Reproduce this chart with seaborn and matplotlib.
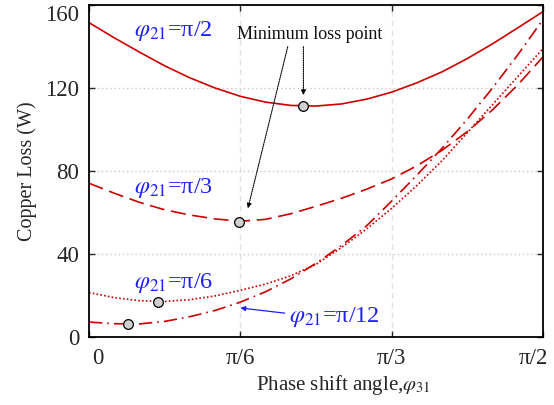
import numpy as np
import pandas as pd
import matplotlib
matplotlib.use("Agg")
import matplotlib.pyplot as plt
import matplotlib.transforms as mtransforms
import seaborn as sns

# ---- data ----
phase_deg = [0, 5, 10, 15, 20, 25, 30, 35, 40, 45, 50, 55, 60, 65, 70, 75, 80, 85, 90]
loss_pi2 = [151.5, 144.2, 137.3, 130.7, 124.9, 120.0, 116.0, 113.2, 111.6, 111.3,
            112.3, 114.6, 118.0, 122.5, 127.8, 134.2, 141.3, 149.0, 156.8]
loss_pi3 = [74.1, 69.3, 64.9, 61.3, 58.8, 56.9, 55.8, 56.7, 59.4, 63.0,
            66.8, 71.2, 76.2, 82.5, 90.0, 99.0, 109.5, 121.5, 135.0]
loss_pi6 = [21.4, 19.0, 17.5, 17.1, 18.0, 19.8, 22.5, 25.5, 29.5, 35.0,
            43.0, 52.0, 62.0, 73.0, 85.0, 98.5, 112.0, 125.5, 139.0]
loss_pi12 = [7.2, 6.4, 6.3, 7.5, 9.8, 12.8, 16.8, 21.8, 28.0, 35.5,
             44.0, 53.5, 65.5, 78.0, 91.0, 105.0, 120.0, 136.0, 153.0]
series_names = ["π/2", "π/3", "π/6", "π/12"]
min_deg = [42.5, 29.7, 13.6, 7.7]
min_loss = [111.3, 55.6, 17.0, 6.1]
x_tick_labels = ["0", "π/6", "π/3", "π/2"]
y_ticks = [0, 40, 80, 120, 160]

# ---- style ----
sns.set_style("ticks")
plt.rcParams["font.family"] = ["Liberation Serif", "DejaVu Serif"]
plt.rcParams["mathtext.fontset"] = "stix"

red = "#cc0000"
blue = "#1f1fff"

fig = plt.figure(figsize=(5.54, 4.05), dpi=100)
ax = fig.add_axes([89 / 554, 1 - 337 / 405, (543 - 89) / 554, (337 - 5) / 405])

deg2rad = np.pi / 180.0
all_losses = [loss_pi2, loss_pi3, loss_pi6, loss_pi12]
styles = ["-", (0, (9, 4)), (0, (1, 1.3)), (0, (8, 3, 1, 3))]
for name, vals, ls in zip(series_names, all_losses, styles):
    df = pd.DataFrame({"phase": np.array(phase_deg) * deg2rad, "loss": vals})
    sns.lineplot(data=df, x="phase", y="loss", ax=ax, color=red, lw=1.2,
                 linestyle=ls, sort=False, legend=False)

ax.plot(np.array(min_deg) * deg2rad, min_loss, "o", ms=7, mfc="#d0d0d0",
        mec="black", mew=0.9, zorder=5)

# axes
ax.set_xlim(0, np.pi / 2)
ax.set_ylim(0, 160)
ax.set_xticks([0, np.pi / 6, np.pi / 3, np.pi / 2])
ax.set_xticklabels(x_tick_labels)
ax.set_yticks(y_ticks)
ax.tick_params(direction="in", top=True, right=True, labelsize=16.5, length=4,
               width=1.0)
ax.tick_params(axis="x", pad=8)
ax.tick_params(axis="y", pad=7)
for sp in ax.spines.values():
    sp.set_linewidth(1.3)
    sp.set_color("black")
ax.set_axisbelow(True)
ax.yaxis.grid(True, linestyle=(0, (1, 2)), color="#c8c8c8", lw=1.0)
ax.xaxis.grid(True, linestyle=(0, (4, 3)), color="#e2e2e2", lw=1.0)

# keep edge tick labels inside the canvas like the reference
xt = ax.get_xticklabels()
xt[0].set_ha("left")
xt[-1].set_ha("right")
xt[0].set_transform(xt[0].get_transform() + mtransforms.ScaledTranslation(3 / 100, 0, fig.dpi_scale_trans))
xt[-1].set_transform(xt[-1].get_transform() + mtransforms.ScaledTranslation(5 / 100, 0, fig.dpi_scale_trans))
yt = ax.get_yticklabels()
yt[-1].set_va("top")

ax.set_ylabel("Copper Loss (W)", fontsize=14.5)
ax.yaxis.set_label_coords(-(89 - 27) / (543 - 89), 0.5)
ax.set_xlabel(r"Phase shift angle,$\varphi_{\mathit{31}}$", fontsize=15)
ax.xaxis.set_label_coords((343 - 89) / (543 - 89), -(385 - 337) / (337 - 5))
ax.xaxis.label.set_va("center")
ax.yaxis.label.set_va("center")

# curve labels
lab_pos = [(8.9, 147.5), (8.9, 71.7), (8.9, 25.9), (39.6, 9.8)]
for name, (xd, yv) in zip(series_names, lab_pos):
    ax.text(xd * deg2rad, yv, r"$\varphi_{21}$=" + name, color=blue, fontsize=17.5,
            ha="left", va="center")

ax.annotate("", xy=(30.0 * deg2rad, 14.0), xytext=(38.8 * deg2rad, 11.5),
            arrowprops=dict(arrowstyle="-|>", color=blue, lw=0.9,
                            mutation_scale=7, shrinkA=0, shrinkB=0))

ax.text(43.7 * deg2rad, 146, "Minimum loss point", fontsize=13, ha="center",
        va="center", color="#111111")
ax.annotate("", xy=(42.5 * deg2rad, 116.6), xytext=(42.5 * deg2rad, 139.9),
            arrowprops=dict(arrowstyle="-|>", color="black", lw=0.8,
                            linestyle=(0, (1, 1)), mutation_scale=7,
                            shrinkA=0, shrinkB=0))
ax.annotate("", xy=(31.5 * deg2rad, 62.0), xytext=(39.4 * deg2rad, 139.9),
            arrowprops=dict(arrowstyle="-|>", color="black", lw=0.8,
                            linestyle=(0, (1, 1)), mutation_scale=7,
                            shrinkA=0, shrinkB=0))

fig.savefig("out.png", dpi=100)
